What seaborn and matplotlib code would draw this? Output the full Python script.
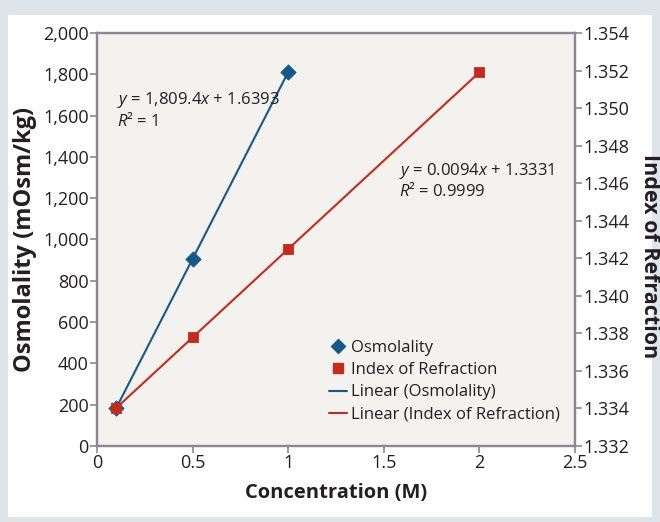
import numpy as np
import matplotlib
matplotlib.use("Agg")
import matplotlib.pyplot as plt
import matplotlib.ticker as mticker
from matplotlib.lines import Line2D
from matplotlib.patches import Rectangle
import seaborn as sns

# data
conc_osm = [0.1, 0.5, 1.0]
osmolality = [182.6, 906.3, 1811.0]
conc_ri = [0.1, 0.5, 1.0, 2.0]
refraction = [1.3340, 1.3378, 1.3425, 1.3519]

x_ticks = [0, 0.5, 1, 1.5, 2, 2.5]
x_tick_labels = ["0", "0.5", "1", "1.5", "2", "2.5"]
left_ticks = list(range(0, 2001, 200))
right_ticks = [1.332, 1.334, 1.336, 1.338, 1.340, 1.342, 1.344, 1.346, 1.348, 1.350, 1.352, 1.354]

blue = "#14598a"
red = "#c8291d"
spine_col = "#8a8a8a"
txt = "#231f20"

sns.set_style("white")
plt.rcParams['font.family'] = ['Open Sans', 'DejaVu Sans']
plt.rcParams['mathtext.fontset'] = 'custom'
plt.rcParams['mathtext.rm'] = 'Open Sans'
plt.rcParams['mathtext.it'] = 'Open Sans:italic'

fig = plt.figure(figsize=(6.6, 5.22), dpi=100)
fig.patch.set_facecolor("#dde4ea")
fig.patches.append(Rectangle((8 / 660, 5 / 522), 644 / 660, 502 / 522,
                             transform=fig.transFigure, facecolor="white",
                             edgecolor="none", zorder=-10))

ax = fig.add_axes([97 / 660, 1 - 446 / 522, 478 / 660, 413 / 522])
ax.set_facecolor("#f3f2ef")
ax2 = ax.twinx()
ax2.patch.set_visible(False)

# trendlines
sns.regplot(x=conc_osm, y=osmolality, ax=ax, scatter=False, ci=None,
            line_kws=dict(color=blue, lw=1.5))
sns.regplot(x=conc_ri, y=refraction, ax=ax2, scatter=False, ci=None,
            line_kws=dict(color=red, lw=1.5))
# points
sns.scatterplot(x=conc_osm, y=osmolality, ax=ax, marker="D", s=60,
                color=blue, edgecolor=blue, zorder=5)
sns.scatterplot(x=conc_ri, y=refraction, ax=ax2, marker="s", s=60,
                color=red, edgecolor=red, zorder=5)

ax.set_xlim(0, 2.5)
ax.set_ylim(0, 2000)
ax2.set_ylim(1.332, 1.354)
ax.set_xticks(x_ticks)
ax.set_xticklabels(x_tick_labels)
ax.set_yticks(left_ticks)
ax.yaxis.set_major_formatter(mticker.FuncFormatter(lambda v, p: f"{int(v):,}"))
ax2.set_yticks(right_ticks)
ax2.yaxis.set_major_formatter(mticker.FormatStrFormatter("%.3f"))

for a in (ax, ax2):
    for s in a.spines.values():
        s.set_color(spine_col)
        s.set_linewidth(1.6)
    a.tick_params(colors=spine_col, labelcolor=txt, labelsize=13,
                  length=5, width=1.2, direction="out", pad=1)
ax.tick_params(axis="y", left=True)
ax.tick_params(axis="x", bottom=True)
ax2.tick_params(axis="y", right=True)

ax.set_xlabel("Concentration (M)", fontsize=14.5, fontweight="bold", color=txt, labelpad=8)
ax.set_ylabel("Osmolality (mOsm/kg)", fontsize=17, fontweight="bold", color=txt, labelpad=4)
ax2.set_ylabel("Index of Refraction", fontsize=15.5, fontweight="bold", color=txt,
               rotation=270, ha="center", va="center")
ax2.yaxis.set_label_coords(1.155, 0.46)

ax.text(0.105, 1675, r"$y$ = 1,809.4$x$ + 1.6393", fontsize=12, color=txt, va="center")
ax.text(0.105, 1575, r"$R$² = 1", fontsize=12, color=txt, va="center")
ax.text(1.58, 1332, r"$y$ = 0.0094$x$ + 1.3331", fontsize=12, color=txt, va="center")
ax.text(1.58, 1235, r"$R$² = 0.9999", fontsize=12, color=txt, va="center")

handles = [
    Line2D([], [], marker="D", color=blue, ls="none", markersize=7),
    Line2D([], [], marker="s", color=red, ls="none", markersize=7),
    Line2D([], [], color=blue, lw=1.5),
    Line2D([], [], color=red, lw=1.5),
]
labels = ["Osmolality", "Index of Refraction", "Linear (Osmolality)",
          "Linear (Index of Refraction)"]
ax2.legend(handles, labels, loc="lower right", bbox_to_anchor=(1.0, 0.02),
           frameon=False, fontsize=12, handlelength=1.1, handletextpad=0.25,
           labelspacing=0.38, labelcolor=txt)

fig.savefig("out.png", dpi=100, facecolor=fig.get_facecolor())
